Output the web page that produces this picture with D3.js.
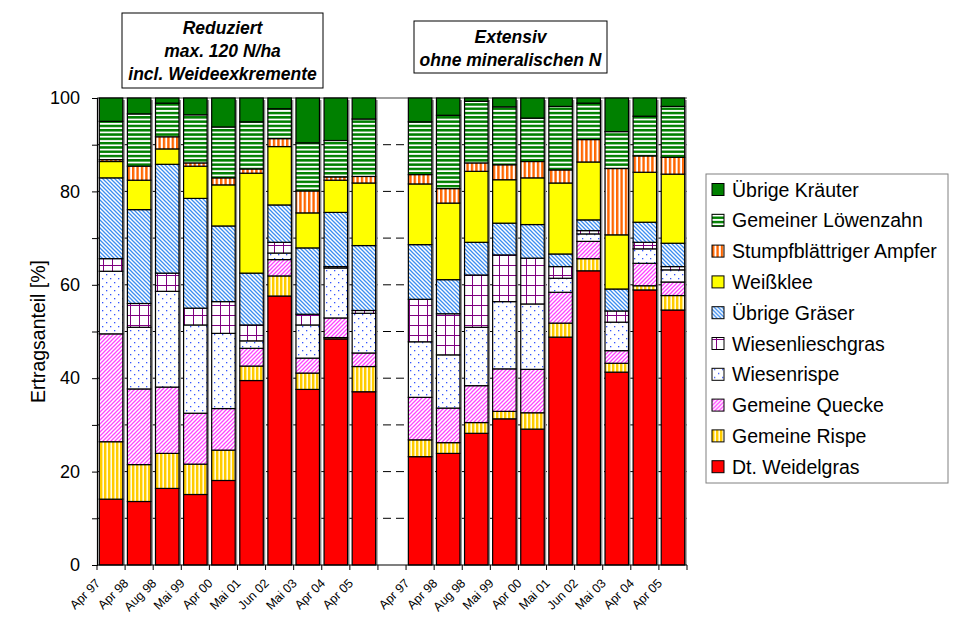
<!DOCTYPE html>
<html>
<head>
<meta charset="utf-8">
<script src="https://cdn.jsdelivr.net/npm/d3@7"></script>
<style>
  html, body { margin: 0; padding: 0; background: #ffffff; }
  svg { display: block; font-family: Arial, "Liberation Sans", sans-serif; }
</style>
</head>
<body>
<svg id="chart" width="972" height="619"></svg>
<script>
// Sampling dates (same for both management variants)
const categories = ["Apr 97", "Apr 98", "Aug 98", "Mai 99", "Apr 00", "Mai 01", "Jun 02", "Mai 03", "Apr 04", "Apr 05"];
const groups = ["Reduziert", "Extensiv"];

// Yield shares [%] per species: 10 values "Reduziert", then 10 values "Extensiv"
const weidelgras  = [14.1, 13.6, 16.4, 15.1, 18.1, 39.5, 57.6, 37.6, 48.4, 37.1,  23.2, 23.9, 28.2, 31.3, 29.1, 48.8, 63.0, 41.3, 58.9, 54.6];
const rispe       = [12.3,  7.9,  7.5,  6.5,  6.5,  3.1,  4.3,  3.5,  0.3,  5.4,   3.6,  2.3,  2.3,  1.6,  3.5,  3.0,  2.6,  1.9,  0.9,  3.1];
const quecke      = [23.1, 16.2, 14.2, 10.9,  8.9,  3.8,  3.5,  3.2,  4.2,  2.9,   9.1,  7.4,  7.9,  9.1,  9.3,  6.6,  3.7,  2.7,  4.8,  2.9];
const wiesenrispe = [13.4, 13.2, 20.5, 18.9, 16.1,  1.6,  1.4,  7.1, 10.7,  8.5,  11.9, 11.4, 12.5, 14.4, 14.0,  3.0,  1.6,  6.1,  3.1,  2.6];
const lieschgras  = [ 2.7,  5.1,  3.9,  3.6,  6.8,  3.4,  2.3,  2.3,  0.3,  0.6,   9.1,  8.8, 11.2, 10.0,  9.8,  2.5,  0.7,  2.4,  1.4,  0.7];
const graeser     = [17.3, 20.1, 23.3, 23.5, 16.2, 11.1,  8.0, 14.2, 11.6, 13.9,  11.7,  7.3,  7.0,  6.8,  7.2,  2.7,  2.3,  4.7,  4.3,  5.0];
const weissklee   = [ 3.5,  6.3,  3.3,  6.9,  8.8, 21.4, 12.5,  7.5,  6.9, 13.4,  13.0, 16.4, 15.2,  9.3, 10.0, 15.2, 12.4, 11.6, 10.7, 14.8];
const ampfer      = [ 0.4,  3.0,  2.6,  0.7,  1.5,  0.9,  1.7,  4.7,  0.7,  1.4,   2.0,  3.1,  1.8,  3.2,  3.5,  2.8,  4.8, 14.2,  3.5,  3.6];
const loewenzahn  = [ 8.2, 11.2,  7.2, 10.3, 10.9, 10.1,  6.4, 10.3,  7.8, 12.3,  11.3, 15.7, 13.2, 12.4,  9.3, 13.6,  7.8,  7.9,  8.5, 10.9];
const kraeuter    = [ 5.0,  3.4,  1.1,  3.6,  6.2,  5.1,  2.3,  9.6,  9.1,  4.5,   5.1,  3.7,  0.7,  1.9,  4.3,  1.8,  1.1,  7.2,  3.9,  1.8];

// Series in stacking order (bottom to top)
const series = [
  { key: "Dt. Weidelgras",          values: weidelgras,  fill: "#ff0000" },
  { key: "Gemeine Rispe",           values: rispe,       fill: "url(#pRispe)" },
  { key: "Gemeine Quecke",          values: quecke,      fill: "url(#pQuecke)" },
  { key: "Wiesenrispe",             values: wiesenrispe, fill: "url(#pWiesenrispe)" },
  { key: "Wiesenlieschgras",        values: lieschgras,  fill: "url(#pLieschgras)" },
  { key: "Übrige Gräser",           values: graeser,     fill: "url(#pGraeser)" },
  { key: "Weißklee",                values: weissklee,   fill: "#ffff00" },
  { key: "Stumpfblättriger Ampfer", values: ampfer,      fill: "url(#pAmpfer)" },
  { key: "Gemeiner Löwenzahn",      values: loewenzahn,  fill: "url(#pLoewenzahn)" },
  { key: "Übrige Kräuter",          values: kraeuter,    fill: "#008000" }
];
const yTicks = d3.range(0, 101, 10);

// Slots along the x axis: group 1, an empty slot, group 2
const slots = [];
const rows = [];
groups.forEach((g, gi) => {
  if (gi > 0) slots.push("gap");
  categories.forEach((c, ci) => {
    const slot = g + "|" + c;
    slots.push(slot);
    const row = { slot: slot, label: c };
    series.forEach(s => { row[s.key] = s.values[gi * categories.length + ci]; });
    rows.push(row);
  });
});

const svg = d3.select("#chart");
const defs = svg.append("defs");

function pattern(id, w, h, build) {
  const p = defs.append("pattern").attr("id", id)
    .attr("patternUnits", "userSpaceOnUse").attr("width", w).attr("height", h);
  build(p);
}
pattern("pRispe", 4, 4, p => {
  p.append("rect").attr("width", 4).attr("height", 4).attr("fill", "#fffbe0");
  p.append("rect").attr("width", 2.4).attr("height", 4).attr("fill", "#ffcc00");
});
pattern("pQuecke", 4, 4, p => {
  p.append("rect").attr("width", 4).attr("height", 4).attr("fill", "#ffffff");
  p.append("path").attr("d", "M-1,1 L1,-1 M0,4 L4,0 M3,5 L5,3").attr("stroke", "#ff44ff").attr("stroke-width", 1.3);
});
pattern("pWiesenrispe", 8, 8, p => {
  p.append("rect").attr("width", 8).attr("height", 8).attr("fill", "#ffffff");
  p.append("rect").attr("x", 2).attr("y", 2).attr("width", 1.3).attr("height", 1.3).attr("fill", "#3355ff");
  p.append("rect").attr("x", 6).attr("y", 6).attr("width", 1.3).attr("height", 1.3).attr("fill", "#3355ff");
});
pattern("pLieschgras", 9, 10, p => {
  p.append("rect").attr("width", 9).attr("height", 10).attr("fill", "#ffffff");
  p.append("path").attr("d", "M0,5.5 H9 M4.5,0 V10").attr("stroke", "#800080").attr("stroke-width", 1);
});
pattern("pGraeser", 4, 4, p => {
  p.append("rect").attr("width", 4).attr("height", 4).attr("fill", "#ffffff");
  p.append("path").attr("d", "M-1,3 L1,5 M0,0 L4,4 M3,-1 L5,1").attr("stroke", "#3d8ef0").attr("stroke-width", 1.3);
});
pattern("pAmpfer", 4.4, 4, p => {
  p.append("rect").attr("width", 4.4).attr("height", 4).attr("fill", "#ffffff");
  p.append("rect").attr("width", 2.4).attr("height", 4).attr("fill", "#ff6600");
});
pattern("pLoewenzahn", 4, 4.3, p => {
  p.append("rect").attr("width", 4).attr("height", 4.3).attr("fill", "#ffffff");
  p.append("rect").attr("width", 4).attr("height", 2.5).attr("fill", "#008000");
});

// Scales
const x = d3.scaleBand().domain(slots).range([97, 687]).paddingInner(0.164).paddingOuter(0.082);
const y = d3.scaleLinear().domain([0, 100]).range([565, 98]);

// Horizontal grid lines (dashed), top line solid gray
svg.append("g").selectAll("line")
  .data(yTicks.filter(t => t > 0 && t < 100))
  .join("line")
  .attr("x1", x.range()[0]).attr("x2", x.range()[1])
  .attr("y1", d => y(d)).attr("y2", d => y(d))
  .attr("stroke", "#000").attr("stroke-width", 1).attr("stroke-dasharray", "8,5");
svg.append("line")
  .attr("x1", x.range()[0]).attr("x2", x.range()[1])
  .attr("y1", y(100)).attr("y2", y(100))
  .attr("stroke", "#808080").attr("stroke-width", 1.3);

// Stacked bars
const stack = d3.stack().keys(series.map(s => s.key));
const stacked = stack(rows);

// Bar shadows
svg.append("g").selectAll("rect")
  .data(rows)
  .join("rect")
  .attr("x", d => x(d.slot) + 2)
  .attr("y", y(100) + 2)
  .attr("width", x.bandwidth())
  .attr("height", y(0) - y(100) - 2)
  .attr("fill", "#8c8c8c");

svg.append("g").selectAll("g")
  .data(stacked)
  .join("g")
  .attr("fill", (d, i) => series[i].fill)
  .selectAll("rect")
  .data(d => d)
  .join("rect")
  .attr("x", d => x(d.data.slot))
  .attr("y", d => y(d[1]))
  .attr("width", x.bandwidth())
  .attr("height", d => Math.max(0, y(d[0]) - y(d[1])))
  .attr("stroke", "#000")
  .attr("stroke-width", 1.2);

// Y axis
const yAxis = d3.axisLeft(y).tickValues(yTicks)
  .tickFormat(d => d % 20 === 0 ? d : "")
  .tickSize(5).tickPadding(12);
const gy = svg.append("g").attr("transform", `translate(${x.range()[0]},0)`).call(yAxis);
gy.select(".domain").attr("stroke", "#000").attr("stroke-width", 1.2);
gy.selectAll(".tick line").attr("stroke", "#000");
gy.selectAll("text").attr("font-size", 18).attr("fill", "#000")
  .attr("font-family", "Arial, 'Liberation Sans', sans-serif");

// X axis: baseline, ticks on slot boundaries, rotated labels
const x0 = x.range()[0];
svg.append("line")
  .attr("x1", x0).attr("x2", x.range()[1])
  .attr("y1", y(0)).attr("y2", y(0))
  .attr("stroke", "#000").attr("stroke-width", 1.2);
svg.append("g").selectAll("line")
  .data(d3.range(slots.length + 1))
  .join("line")
  .attr("x1", i => x0 + i * x.step()).attr("x2", i => x0 + i * x.step())
  .attr("y1", y(0)).attr("y2", y(0) + 5)
  .attr("stroke", "#000");
svg.append("g").selectAll("text")
  .data(rows)
  .join("text")
  .attr("transform", d => `translate(${x(d.slot) + x.bandwidth() / 2 - 10},${y(0) + 19}) rotate(-45)`)
  .attr("text-anchor", "end")
  .attr("font-size", 12.5)
  .attr("fill", "#000")
  .text(d => d.label);

// Y axis title
svg.append("text")
  .attr("transform", `translate(45,${(y(0) + y(100)) / 2}) rotate(-90)`)
  .attr("text-anchor", "middle")
  .attr("font-size", 19.5)
  .attr("fill", "#000")
  .text("Ertragsanteil [%]");

// Variant boxes
const boxes = [
  { x: 122, y: 13, w: 201, h: 75, lines: ["Reduziert", "max. 120 N/ha", "incl. Weideexkremente"], y0: 34 },
  { x: 414, y: 21, w: 193, h: 52, lines: ["Extensiv", "ohne mineralischen N"], y0: 42.5 }
];
boxes.forEach(b => {
  svg.append("rect").attr("x", b.x).attr("y", b.y).attr("width", b.w).attr("height", b.h)
    .attr("fill", "#fff").attr("stroke", "#000").attr("stroke-width", 1);
  svg.append("g").selectAll("text").data(b.lines).join("text")
    .attr("x", b.x + b.w / 2)
    .attr("y", (d, i) => b.y0 + i * 23)
    .attr("text-anchor", "middle")
    .attr("font-size", 17.5).attr("font-weight", "bold").attr("font-style", "italic")
    .attr("fill", "#000")
    .text(d => d);
});

// Legend
const legend = svg.append("g");
legend.append("rect").attr("x", 706).attr("y", 174).attr("width", 242).attr("height", 309)
  .attr("fill", "#fff").attr("stroke", "#808080").attr("stroke-width", 1);
const legendItems = series.slice().reverse();
const li = legend.selectAll("g.item").data(legendItems).join("g").attr("class", "item")
  .attr("transform", (d, i) => `translate(712,${190 + i * 30.8})`);
li.append("rect").attr("x", 0).attr("y", -6.5).attr("width", 12).attr("height", 12)
  .attr("fill", d => d.fill).attr("stroke", "#000").attr("stroke-width", 1);
li.append("text").attr("x", 20).attr("y", 6.5)
  .attr("font-size", 19.5).attr("fill", "#000")
  .text(d => d.key);
</script>
</body>
</html>
